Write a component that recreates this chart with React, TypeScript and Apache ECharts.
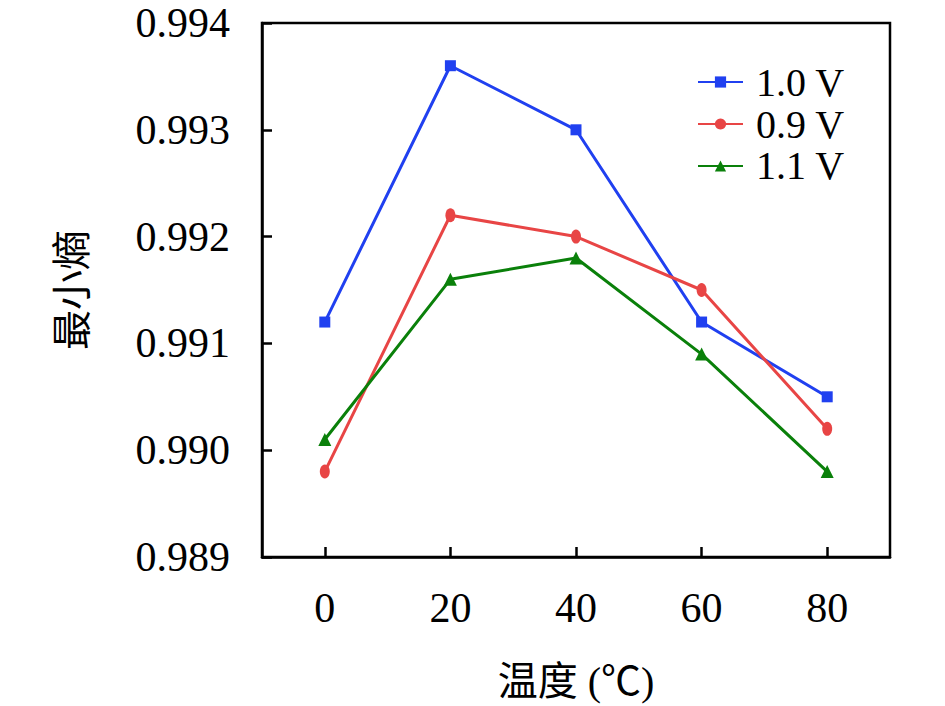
import React, { useEffect, useRef } from "react";
import * as echarts from "echarts";

const temps = [0, 20, 40, 60, 80];
const xTicks = [0, 20, 40, 60, 80];
const s10 = [0.9912, 0.9936, 0.993, 0.9912, 0.9905];
const s09 = [0.9898, 0.9922, 0.992, 0.9915, 0.9902];
const s11 = [0.9901, 0.9916, 0.9918, 0.9909, 0.9898];
const seriesNames = ["1.0 V", "0.9 V", "1.1 V"];
const colors = ["#2040f0", "#e84545", "#0a800a"];

const FONT = "'Liberation Serif', 'Noto Sans CJK SC', serif";

export default function App() {
  const ref = useRef<HTMLDivElement>(null);
  useEffect(() => {
    if (!ref.current) return;
    const chart = echarts.init(ref.current, undefined, { renderer: "svg" });
    const mk = (name: string, vals: number[], color: string, symbol: string, size: any) => ({
      name,
      type: "line",
      data: temps.map((t, i) => [t, vals[i]]),
      symbol,
      symbolSize: size,
      showAllSymbol: true,
      lineStyle: { color, width: 3 },
      itemStyle: { color },
    });
    chart.setOption({
      animation: false,
      backgroundColor: "#fff",
      textStyle: { fontFamily: FONT },
      grid: {
        left: 262,
        right: 55,
        top: 23,
        bottom: 149,
        show: true,
        borderColor: "#000",
        borderWidth: 2.5,
        backgroundColor: "transparent",
      },
      legend: {
        left: 692,
        top: 57,
        orient: "vertical",
        itemWidth: 45,
        itemHeight: 14,
        itemGap: 2,
        data: seriesNames,
        textStyle: { fontSize: 40, fontFamily: FONT, color: "#000", lineHeight: 38, padding: [0, 0, 0, 8] },
      },
      xAxis: {
        type: "value",
        min: -10,
        max: 90,
        name: "温度 (℃)",
        nameLocation: "middle",
        nameGap: 104,
        nameTextStyle: { fontSize: 40, fontFamily: FONT, color: "#000" },
        axisLine: { show: true, onZero: false, lineStyle: { color: "#000", width: 2.5 } },
        axisTick: { show: true, inside: true, length: 10, lineStyle: { color: "#000", width: 2.5 }, customValues: xTicks },
        axisLabel: { fontSize: 42, color: "#000", fontFamily: FONT, margin: 30, customValues: xTicks },
        splitLine: { show: false },
      },
      yAxis: {
        type: "value",
        min: 0.989,
        max: 0.994,
        interval: 0.001,
        name: "最小熵",
        nameLocation: "middle",
        nameRotate: 90,
        nameGap: 170,
        nameTextStyle: { fontSize: 40, fontFamily: FONT, color: "#000" },
        axisLine: { show: true, onZero: false, lineStyle: { color: "#000", width: 2.5 } },
        axisTick: { show: true, inside: true, length: 10, lineStyle: { color: "#000", width: 2.5 } },
        axisLabel: {
          fontSize: 42,
          color: "#000",
          fontFamily: FONT,
          margin: 32,
          formatter: (v: number) => v.toFixed(3),
        },
        splitLine: { show: false },
      },
      series: [
        mk(seriesNames[0], s10, colors[0], "rect", 11),
        mk(seriesNames[1], s09, colors[1], "circle", [10, 14]),
        mk(seriesNames[2], s11, colors[2], "triangle", 13),
      ],
    });
    return () => chart.dispose();
  }, []);
  return (
    <div
      ref={ref}
      style={{ position: "fixed", left: 0, top: 0, width: 945, height: 706, background: "#fff" }}
    />
  );
}
